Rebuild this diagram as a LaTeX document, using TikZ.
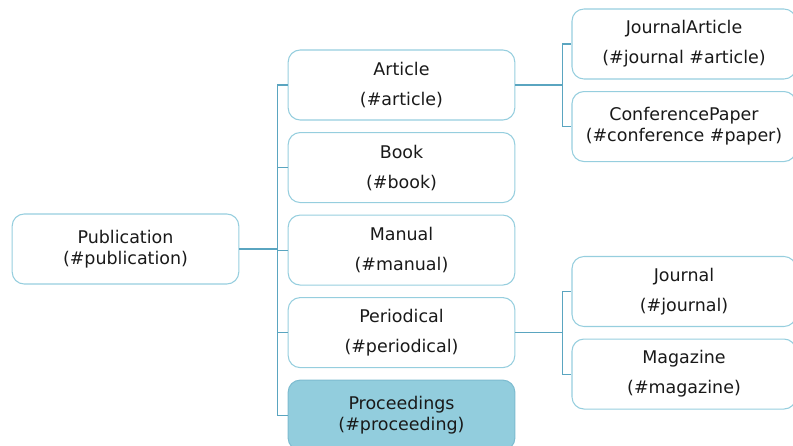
\documentclass[tikz,border=0pt]{standalone}
\usepackage{fontspec}
\setmainfont{DejaVu Sans}
\usetikzlibrary{positioning}
\definecolor{boxline}{RGB}{150,206,222}
\definecolor{linkcol}{RGB}{90,165,192}
\definecolor{procfill}{RGB}{146,205,221}
\definecolor{procline}{RGB}{125,188,208}
\definecolor{txt}{RGB}{25,25,25}

\begin{document}
\begin{tikzpicture}[
            x=0.75pt, y=-0.75pt,
            box/.style={
                draw=boxline,
                rounded corners=9pt,
                align=center,
                minimum width=170pt,
                minimum height=52.5pt,
                inner sep=0pt,
                line width=0.8pt,
                text=txt,
                font=\fontsize{13.1}{22.5}\selectfont
            },
            tight/.style={font=\fontsize{13.1}{15.8}\selectfont},
            leaf/.style={box, minimum width=168pt},
            link/.style={draw=linkcol, line width=0.8pt},
            node distance=8.6pt
        ]
        \useasboundingbox (0,0) rectangle (793,446);

        % Root
        \node[box, tight] (pub) at (125.5,249) {Publication\\(\#publication)};

        % Middle column
        \node[box] (article) at (401.5,85) {Article\\(\#article)};
        \node[box, below=of article] (book) {Book\\(\#book)};
        \node[box, below=of book] (manual) {Manual\\(\#manual)};
        \node[box, below=of manual] (periodical) {Periodical\\(\#periodical)};
        \node[box, tight, fill=procfill, draw=procline, below=of periodical] (proc)
            {Proceedings\\(\#proceeding)};

        % Right column
        \node[leaf] (jarticle) at (684,44) {JournalArticle\\(\#journal \#article)};
        \node[leaf, tight, below=of jarticle] (confpaper)
            {ConferencePaper\\(\#conference \#paper)};
        \node[leaf] (journal) at (684,291.5) {Journal\\(\#journal)};
        \node[leaf, below=of journal] (magazine) {Magazine\\(\#magazine)};

        % Connectors
        \draw[link] (pub.east) -- ++(38,0) coordinate (rootfork);
        \foreach \c in {article,book,manual,periodical,proc}
            \draw[link] (rootfork) |- (\c.west);

        \draw[link] (article.east) -- ++(47,0) coordinate (artfork);
        \foreach \c in {jarticle,confpaper}
            \draw[link] (artfork) |- (\c.west);

        \draw[link] (periodical.east) -- ++(47,0) coordinate (perfork);
        \foreach \c in {journal,magazine}
            \draw[link] (perfork) |- (\c.west);
\end{tikzpicture}
\end{document}
